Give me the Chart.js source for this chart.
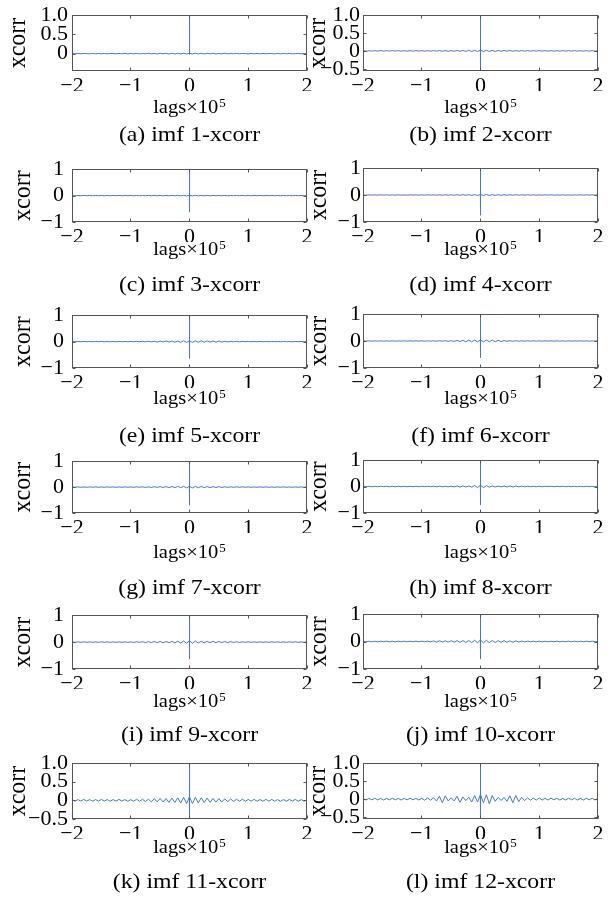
<!DOCTYPE html>
<html>
<head>
<meta charset="utf-8">
<script src="https://cdn.jsdelivr.net/npm/chart.js@4.4.1/dist/chart.umd.min.js"></script>
<style>
  html, body { margin: 0; padding: 0; background: #fff; }
  #fig { position: relative; width: 614px; height: 902px; overflow: hidden; background: #fff; }
  #fig canvas { position: absolute; }
</style>
</head>
<body>
<div id="fig"></div>
<script>
// lag axis (x 10^5); the central lags sit inside one pixel so the peak draws as a single stroke
const lags = [
  -2, -1.95, -1.9, -1.85, -1.8, -1.75, -1.7, -1.65, -1.6, -1.55,
  -1.5, -1.45, -1.4, -1.35, -1.3, -1.25, -1.2, -1.15, -1.1, -1.05,
  -1, -0.95, -0.9, -0.85, -0.8, -0.75, -0.7, -0.65, -0.6, -0.55,
  -0.5, -0.45, -0.4, -0.35, -0.3, -0.25, -0.2, -0.15, -0.1, -0.05,
  -0.002, -0.001, 0, 0.001, 0.002,
  0.05, 0.1, 0.15, 0.2, 0.25, 0.3, 0.35, 0.4, 0.45, 0.5,
  0.55, 0.6, 0.65, 0.7, 0.75, 0.8, 0.85, 0.9, 0.95, 1,
  1.05, 1.1, 1.15, 1.2, 1.25, 1.3, 1.35, 1.4, 1.45, 1.5,
  1.55, 1.6, 1.65, 1.7, 1.75, 1.8, 1.85, 1.9, 1.95, 2
];

// xcorr values
const imf1 = [
  0.005,-0.005,0.005,-0.005,0.005,0,-0.005,0.005,-0.005,0.005, -0.005,0.005,-0.005,0.005,0,-0.005,0.005,-0.005,0.005,-0.005,
  0.005,-0.005,0.005,-0.005,0.005,-0.005,0.01,-0.005,0.005,-0.01, 0.01,-0.005,0.01,-0.01,0.01,-0.01,0.01,-0.01,0.01,-0.01,
  0.01,-0.02,1,-0.02,0.01,
  -0.01,0.01,-0.01,0.01,-0.01,0.01,-0.005,0.01,-0.01,0.005, -0.005,0.01,-0.005,0.005,-0.005,0.005,-0.005,0.005,0,-0.005,
  0.005,-0.005,0.005,-0.005,0.005,-0.005,0.005,0,-0.005,0.005, -0.005,0.005,-0.005,0.005,-0.005,0,0.005,-0.005,0.005,-0.005
];
const imf2 = [
  0.006,-0.006,0.004,-0.006,0.006,-0.006,0.008,-0.006,0.006,-0.006, 0.008,-0.006,0.006,-0.008,0.006,-0.006,0.006,-0.008,0.008,-0.006,
  0.006,-0.008,0.008,-0.006,0.008,-0.008,0.008,-0.01,0.01,-0.01, 0.01,-0.012,0.012,-0.01,0.012,-0.015,0.015,-0.015,0.018,-0.02,
  0.02,-0.56,1,-0.56,0.02,
  -0.02,0.018,-0.015,0.015,-0.015,0.012,-0.012,0.012,-0.01,0.012, -0.01,0.01,-0.008,0.01,-0.008,0.008,-0.008,0.008,-0.006,0.008,
  -0.006,0.006,-0.008,0.006,-0.006,0.006,-0.006,0.008,-0.006,0.006, -0.006,0.008,-0.006,0.006,-0.006,0.006,-0.008,0.006,-0.006,0.006
];
const imf3 = [
  0.006,-0.006,0.004,-0.006,0.006,-0.004,0.006,-0.006,0.004,-0.006, 0.006,-0.006,0.004,-0.006,0.006,-0.004,0.006,-0.006,0.006,-0.004,
  0.006,-0.006,0.004,-0.006,0.006,-0.008,0.008,-0.006,0.008,-0.008, 0.008,-0.01,0.008,-0.01,0.01,-0.008,0.01,-0.012,0.012,-0.012,
  0.012,-0.63,1,-0.63,0.012,
  -0.012,0.012,-0.01,0.01,-0.01,0.008,-0.01,0.008,-0.008,0.008, -0.008,0.006,-0.008,0.006,-0.006,0.006,-0.004,0.006,-0.006,0.004,
  -0.006,0.006,-0.004,0.006,-0.006,0.006,-0.004,0.006,-0.006,0.004, -0.006,0.006,-0.006,0.004,-0.006,0.006,-0.004,0.006,-0.006,0.006
];
const imf4 = [
  0.004,-0.006,0.006,-0.004,0.006,-0.006,0.006,-0.004,0.006,-0.006, 0.004,-0.006,0.006,-0.006,0.004,-0.006,0.006,-0.004,0.006,-0.006,
  0.006,-0.006,0.008,-0.006,0.008,-0.008,0.008,-0.01,0.01,-0.008, 0.01,-0.012,0.012,-0.012,0.015,-0.012,0.015,-0.018,0.018,-0.02,
  0.02,-0.75,1,-0.74,0.02,
  -0.02,0.018,-0.018,0.015,-0.015,0.012,-0.012,0.012,-0.01,0.01, -0.008,0.01,-0.008,0.008,-0.006,0.008,-0.006,0.006,-0.006,0.004,
  -0.006,0.006,-0.004,0.006,-0.006,0.004,-0.006,0.006,-0.006,0.004, -0.006,0.006,-0.004,0.006,-0.006,0.006,-0.004,0.006,-0.006,0.006
];
const imf5 = [
  0.006,-0.006,0.004,-0.006,0.006,-0.004,0.006,-0.006,0.006,-0.004, 0.006,-0.006,0.004,-0.006,0.006,-0.006,0.004,-0.006,0.006,-0.006,
  0.008,-0.006,0.008,-0.008,0.01,-0.008,0.012,-0.01,0.015,-0.02, 0.02,-0.018,0.025,-0.02,0.022,-0.025,0.02,-0.028,0.03,-0.03,
  0.03,-0.64,1,-0.64,0.03,
  -0.03,0.028,-0.025,0.03,-0.022,0.025,-0.02,0.025,-0.022,0.02, -0.018,0.015,-0.012,0.01,-0.008,0.008,-0.006,0.008,-0.006,0.006,
  -0.006,0.006,-0.004,0.006,-0.006,0.004,-0.006,0.006,-0.004,0.006, -0.006,0.006,-0.006,0.004,-0.006,0.006,-0.004,0.006,-0.006,0.006
];
const imf6 = [
  0.006,-0.004,0.006,-0.006,0.004,-0.006,0.006,-0.006,0.004,-0.006, 0.006,-0.006,0.004,-0.006,0.006,-0.004,0.006,-0.006,0.006,-0.004,
  0.006,-0.006,0.008,-0.006,0.008,-0.008,0.01,-0.008,0.01,-0.012, 0.012,-0.015,0.018,-0.02,0.025,-0.03,0.028,-0.03,0.035,-0.03,
  0.035,-0.62,1,-0.62,0.035,
  -0.03,0.035,-0.03,0.035,-0.03,0.025,-0.02,0.015,-0.012,0.012, -0.01,0.01,-0.008,0.008,-0.006,0.008,-0.006,0.006,-0.004,0.006,
  -0.006,0.006,-0.004,0.006,-0.006,0.006,-0.004,0.006,-0.006,0.004, -0.006,0.006,-0.004,0.006,-0.006,0.006,-0.006,0.004,-0.006,0.006
];
const imf7 = [
  0.008,-0.006,0.008,-0.008,0.006,-0.008,0.008,-0.006,0.008,-0.008, 0.006,-0.008,0.008,-0.006,0.008,-0.008,0.006,-0.008,0.008,-0.006,
  0.008,-0.008,0.01,-0.008,0.01,-0.012,0.01,-0.012,0.015,-0.012, 0.018,-0.015,0.02,-0.018,0.022,-0.02,0.025,-0.022,0.028,-0.03,
  0.03,-0.7,1,-0.7,0.03,
  -0.03,0.028,-0.025,0.025,-0.022,0.02,-0.022,0.02,-0.018,0.02, -0.018,0.015,-0.012,0.012,-0.01,0.01,-0.008,0.01,-0.008,0.008,
  -0.008,0.006,-0.008,0.008,-0.006,0.008,-0.008,0.006,-0.008,0.008, -0.006,0.008,-0.008,0.006,-0.008,0.008,-0.006,0.008,-0.008,0.006
];
const imf8 = [
  0.008,-0.006,0.008,-0.008,0.006,-0.008,0.008,-0.006,0.008,-0.01, 0.008,-0.01,0.008,-0.008,0.006,-0.008,0.008,-0.006,0.008,-0.008,
  0.008,-0.006,0.008,-0.008,0.01,-0.01,0.012,-0.01,0.012,-0.012, 0.012,-0.015,0.018,-0.02,0.022,-0.018,0.02,-0.025,0.035,-0.04,
  0.045,-0.69,1,-0.69,0.045,
  -0.04,0.035,-0.025,0.02,-0.018,0.015,-0.015,0.018,-0.02,0.022, -0.02,0.018,-0.012,0.012,-0.01,0.01,-0.008,0.01,-0.008,0.008,
  -0.008,0.008,-0.006,0.008,-0.008,0.008,-0.006,0.008,-0.008,0.008, -0.006,0.008,-0.008,0.006,-0.008,0.008,-0.006,0.008,-0.008,0.006
];
const imf9 = [
  0.01,-0.01,0.008,-0.01,0.01,-0.008,0.01,-0.01,0.008,-0.01, 0.01,-0.008,0.01,-0.01,0.008,-0.01,0.01,-0.01,0.008,-0.01,
  0.01,-0.012,0.012,-0.01,0.015,-0.02,0.022,-0.018,0.025,-0.022, 0.025,-0.028,0.022,-0.025,0.028,-0.03,0.032,-0.035,0.04,-0.045,
  0.05,-0.63,1,-0.63,0.05,
  -0.045,0.04,-0.035,0.03,-0.03,0.028,-0.025,0.028,-0.022,0.025, -0.02,0.022,-0.02,0.018,-0.015,0.012,-0.012,0.01,-0.01,0.012,
  -0.01,0.01,-0.008,0.01,-0.01,0.008,-0.01,0.01,-0.008,0.01, -0.01,0.008,-0.01,0.01,-0.008,0.01,-0.01,0.008,-0.01,0.01
];
const imf10 = [
  0.012,-0.01,0.012,-0.012,0.01,-0.012,0.012,-0.01,0.012,-0.012, 0.01,-0.012,0.012,-0.01,0.012,-0.012,0.01,-0.012,0.012,-0.012,
  0.012,-0.012,0.015,-0.012,0.02,-0.022,0.025,-0.02,0.025,-0.022, 0.028,-0.025,0.03,-0.028,0.032,-0.035,0.035,-0.038,0.045,-0.05,
  0.055,-0.64,1,-0.64,0.055,
  -0.05,0.045,-0.04,0.035,-0.035,0.032,-0.03,0.032,-0.028,0.025, -0.025,0.022,-0.018,0.015,-0.012,0.012,-0.012,0.01,-0.012,0.012,
  -0.012,0.01,-0.012,0.012,-0.01,0.012,-0.012,0.01,-0.012,0.012, -0.01,0.012,-0.012,0.01,-0.012,0.012,-0.01,0.012,-0.012,0.01
];
const imf11 = [
  0.02,-0.025,0.02,-0.02,0.025,-0.02,0.02,-0.025,0.02,-0.02, 0.025,-0.02,0.02,-0.025,0.02,-0.02,0.025,-0.02,0.02,-0.025,
  0.02,-0.025,0.03,-0.025,0.03,-0.035,0.03,-0.04,0.045,-0.04, 0.05,-0.045,0.05,-0.055,0.06,-0.055,0.065,-0.07,0.08,-0.085,
  0.09,-0.5,1,-0.5,0.09,
  -0.085,0.08,-0.07,0.07,-0.06,0.06,-0.055,0.05,-0.05,0.045, -0.045,0.04,-0.035,0.035,-0.03,0.03,-0.025,0.03,-0.025,0.025,
  -0.02,0.025,-0.025,0.02,-0.025,0.025,-0.02,0.025,-0.025,0.02, -0.025,0.02,-0.025,0.025,-0.02,0.025,-0.025,0.02,-0.025,0.02
];
const imf12 = [
  0.02,-0.025,0.02,-0.02,0.025,-0.02,0.02,-0.025,0.02,-0.02, 0.025,-0.02,0.02,-0.025,0.02,-0.02,0.025,-0.02,0.02,-0.025,
  0.025,-0.03,0.035,-0.03,0.04,-0.05,0.08,-0.1,0.09,-0.05, 0.04,-0.05,0.08,-0.09,0.06,-0.04,0.05,-0.08,0.1,-0.08,
  0.12,-0.55,1,-0.55,0.12,
  -0.1,0.12,-0.13,0.1,-0.06,0.05,-0.04,0.05,-0.06,0.09, -0.1,0.1,-0.07,0.05,-0.04,0.035,-0.03,0.03,-0.025,0.03,
  -0.025,0.02,-0.025,0.025,-0.02,0.025,-0.025,0.02,-0.025,0.025, -0.02,0.025,-0.025,0.02,-0.025,0.025,-0.02,0.025,-0.025,0.02
];

const xTicks = [-2, -1, 0, 1, 2];
const yTicksHalf = [-0.5, 0, 0.5, 1];
const yTicksUnit = [-1, 0, 1];

const LINE = '#4479c9';
const FRAME = '#555';
const FONT = '"Liberation Serif", "Times New Roman", serif';
const SX = 1.08; // the source figure is a little wider than tall

// box = plot area in page pixels [left, top, right, bottom]
const panels = [
  { vals: imf1,  cap: '(a) imf 1-xcorr',  box: [72, 15, 307, 71],   y: [-0.45, 1], ticks: yTicksHalf, dec: 1, pad: 4, yl: 18,  xl: 113, cl: 141 },
  { vals: imf2,  cap: '(b) imf 2-xcorr',  box: [363, 15, 598, 71],  y: [-0.56, 1], ticks: yTicksHalf, dec: 1, pad: 3, yl: 318, xl: 113, cl: 141 },
  { vals: imf3,  cap: '(c) imf 3-xcorr',  box: [72, 168, 307, 222],  y: [-1, 1], ticks: yTicksUnit, dec: 0, pad: 8, yl: 23,  xl: 255, cl: 291 },
  { vals: imf4,  cap: '(d) imf 4-xcorr',  box: [363, 168, 598, 222], y: [-1, 1], ticks: yTicksUnit, dec: 0, pad: 2, yl: 319, xl: 255, cl: 291 },
  { vals: imf5,  cap: '(e) imf 5-xcorr',  box: [72, 314, 307, 368],  y: [-1, 1], ticks: yTicksUnit, dec: 0, pad: 8, yl: 23,  xl: 404, cl: 442 },
  { vals: imf6,  cap: '(f) imf 6-xcorr',  box: [363, 314, 598, 368], y: [-1, 1], ticks: yTicksUnit, dec: 0, pad: 2, yl: 319, xl: 404, cl: 442 },
  { vals: imf7,  cap: '(g) imf 7-xcorr',  box: [72, 460, 307, 513],  y: [-1, 1], ticks: yTicksUnit, dec: 0, pad: 8, yl: 23,  xl: 558, cl: 594 },
  { vals: imf8,  cap: '(h) imf 8-xcorr',  box: [363, 460, 598, 513], y: [-1, 1], ticks: yTicksUnit, dec: 0, pad: 2, yl: 319, xl: 558, cl: 594 },
  { vals: imf9,  cap: '(i) imf 9-xcorr',  box: [72, 614, 307, 669],  y: [-1, 1], ticks: yTicksUnit, dec: 0, pad: 8, yl: 23,  xl: 707, cl: 741 },
  { vals: imf10, cap: '(j) imf 10-xcorr', box: [363, 614, 598, 669], y: [-1, 1], ticks: yTicksUnit, dec: 0, pad: 2, yl: 319, xl: 707, cl: 741 },
  { vals: imf11, cap: '(k) imf 11-xcorr', box: [72, 763, 307, 819],  y: [-0.5, 1], ticks: yTicksHalf, dec: 1, pad: 4, yl: 18,  xl: 853, cl: 888 },
  { vals: imf12, cap: '(l) imf 12-xcorr', box: [363, 763, 598, 819], y: [-0.55, 1], ticks: yTicksHalf, dec: 1, pad: 3, yl: 318, xl: 853, cl: 888 }
];

const minus = s => s.replace('-', '\u2212');

function stretchedText(ctx, text, cx, base, font) {
  ctx.font = font;
  const w = ctx.measureText(text).width;
  ctx.save();
  ctx.translate(cx - w * SX / 2, base);
  ctx.scale(SX, 1);
  ctx.fillText(text, 0, 0);
  ctx.restore();
}

// box, inward ticks and the MATLAB-style labels
const matlabFrame = {
  id: 'matlabFrame',
  afterDraw(chart) {
    const o = chart.options.plugins.matlabFrame;
    const { ctx, chartArea: a, scales } = chart;
    const L = Math.round(a.left) + 0.5, R = Math.round(a.right) - 0.5;
    const T = Math.round(a.top) + 0.5, B = Math.round(a.bottom) - 0.5;
    ctx.save();
    ctx.strokeStyle = FRAME;
    ctx.lineWidth = 1;
    ctx.strokeRect(L, T, R - L, B - T);
    ctx.beginPath();
    scales.x.ticks.forEach(t => {
      const px = Math.floor(scales.x.getPixelForValue(t.value)) + 0.5;
      ctx.moveTo(px, B); ctx.lineTo(px, B - 3);
      ctx.moveTo(px, T); ctx.lineTo(px, T + 3);
    });
    scales.y.ticks.forEach(t => {
      const py = Math.round(scales.y.getPixelForValue(t.value)) + 0.5;
      ctx.moveTo(L, py); ctx.lineTo(L + 3, py);
      ctx.moveTo(R, py); ctx.lineTo(R - 3, py);
    });
    ctx.stroke();

    ctx.fillStyle = '#000';
    ctx.textBaseline = 'alphabetic';
    ctx.textAlign = 'left';
    const cx = (a.left + a.right) / 2;

    // y label, rotated, stretched across the page
    ctx.save();
    ctx.translate(o.yl - o.left, (a.top + a.bottom) / 2);
    ctx.rotate(-Math.PI / 2);
    ctx.scale(1, SX);
    ctx.font = '24px ' + FONT;
    ctx.textAlign = 'center';
    ctx.textBaseline = 'middle';
    ctx.fillText('xcorr', 0, 0);
    ctx.restore();

    // x label with superscript exponent
    const big = '19px ' + FONT, small = '12px ' + FONT;
    ctx.font = big;
    const w1 = ctx.measureText('lags\u00d710').width;
    ctx.font = small;
    const w2 = ctx.measureText('5').width;
    ctx.save();
    ctx.translate(cx - (w1 + w2 + 1) * SX / 2, o.xl - o.top);
    ctx.scale(SX, 1);
    ctx.font = big;
    ctx.fillText('lags\u00d710', 0, 0);
    ctx.font = small;
    ctx.fillText('5', w1 + 1, -6);
    ctx.restore();

    stretchedText(ctx, o.cap, cx, o.cl - o.top, '22px ' + FONT);
    ctx.restore();
  }
};

const fig = document.getElementById('fig');

panels.forEach(p => {
  const [x0, y0, x1, y1] = p.box;
  const left = x0 - 72, top = y0 - 20;
  const w = x1 - x0 + 84, h = y1 - y0 + 115;
  const canvas = document.createElement('canvas');
  canvas.width = w; canvas.height = h;
  canvas.style.left = left + 'px';
  canvas.style.top = top + 'px';
  canvas.style.width = w + 'px';
  canvas.style.height = h + 'px';
  fig.appendChild(canvas);

  new Chart(canvas.getContext('2d'), {
    type: 'line',
    data: {
      datasets: [{
        data: lags.map((x, i) => ({ x, y: p.vals[i] })),
        borderColor: LINE,
        borderWidth: 1,
        pointRadius: 0,
        tension: 0,
        fill: false
      }]
    },
    options: {
      responsive: false,
      animation: false,
      events: [],
      layout: { padding: { left: 0, top: 20, right: 12, bottom: 75 } },
      plugins: {
        legend: { display: false },
        tooltip: { enabled: false },
        matlabFrame: { left, top, yl: p.yl, xl: p.xl, cl: p.cl, cap: p.cap }
      },
      scales: {
        x: {
          type: 'linear',
          min: -2, max: 2,
          grid: { display: false, drawTicks: false },
          border: { display: false },
          afterFit: s => { s.height = 20; },
          afterBuildTicks: s => { s.ticks = xTicks.map(v => ({ value: v })); },
          ticks: {
            padding: 2,
            autoSkip: false,
            maxRotation: 0,
            color: '#000',
            font: { family: FONT, size: 22 },
            callback: v => minus(String(v))
          }
        },
        y: {
          type: 'linear',
          min: p.y[0], max: p.y[1],
          grid: { display: false, drawTicks: false },
          border: { display: false },
          afterFit: s => { s.width = 72; },
          afterBuildTicks: s => {
            s.ticks = p.ticks.filter(v => v >= s.min - 1e-9 && v <= s.max + 1e-9).map(v => ({ value: v }));
          },
          ticks: {
            padding: p.pad,
            autoSkip: false,
            color: '#000',
            font: { family: FONT, size: 22 },
            callback: v => minus(v === 0 ? '0' : v.toFixed(p.dec))
          }
        }
      }
    },
    plugins: [matlabFrame]
  });
});
</script>
</body>
</html>
